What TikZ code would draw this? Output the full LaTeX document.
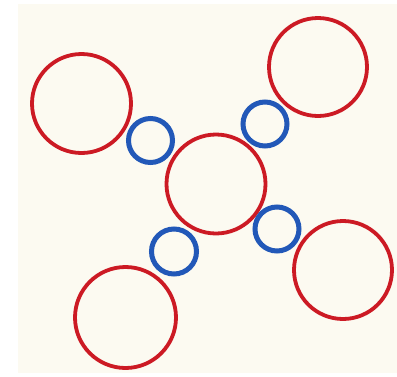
\documentclass[tikz,border=0pt]{standalone}
\usepackage{xcolor}
\usepackage{tikz}

\definecolor{paper}{HTML}{FCFAF1}
\definecolor{ringred}{HTML}{CC1A24}
\definecolor{ringblue}{HTML}{2258B8}

\begin{document}
\begin{tikzpicture}[
  x=1pt,y=-1pt,
  bigring/.style={draw=ringred,circle,line width=3.8pt,inner sep=0pt,
                  minimum size=#1},
  smallring/.style={draw=ringblue,circle,line width=5pt,inner sep=0pt,
                    minimum size=#1}]
  % page and paper
  \fill[white] (0,0) rectangle (397,376);
  \fill[paper] (18,4) rectangle (397,373);
  \useasboundingbox (0,0) rectangle (397,376);
  % large red rings
  \node[bigring=99pt]  (tl) at (81.5,103.5) {};
  \node[bigring=98pt]  (tr) at (318,67) {};
  \node[bigring=99pt]  (mid) at (216,184) {};
  \node[bigring=98pt]  (br) at (343,270) {};
  \node[bigring=101pt] (bl) at (125.5,317.5) {};
  % small blue rings
  \node[smallring=44pt] (btl) at (150.5,140.5) {};
  \node[smallring=44pt] (btr) at (265,124) {};
  \node[smallring=44pt] (bbr) at (277,229) {};
  \node[smallring=45pt] (bbl) at (174,251.5) {};
\end{tikzpicture}
\end{document}
